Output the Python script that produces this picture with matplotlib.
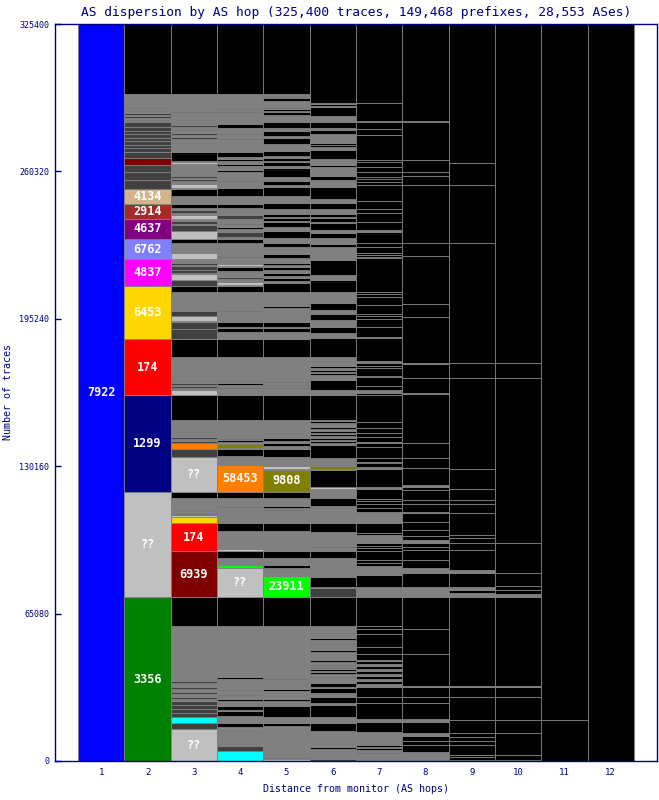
import matplotlib.pyplot as plt

plt.rcParams['font.family'] = ['DejaVu Sans Mono']

TITLE = "AS dispersion by AS hop (325,400 traces, 149,468 prefixes, 28,553 ASes)"
NAVY = '#000080'

# colour of each category (K = trace ended, G = other/many small, D = dark, L = unknown)
palette = {'K': '#000000', 'G': '#808080', 'D': '#404040', 'L': '#c0c0c0',
           'blue': '#0000ff', 'green': '#008000', 'navy': '#000080', 'red': '#ff0000',
           'gold': '#ffd700', 'magenta': '#ff00ff', 'slate': '#8080ff', 'purple': '#800080',
           'brown': '#a52a2a', 'tan': '#d2b48c', 'maroon': '#800000', 'cyan': '#00ffff',
           'orange': '#ff8000', 'olive': '#808000', 'lime': '#00ff00'}

hops = list(range(1, 13))
yticks = [0, 65080, 130160, 195240, 260320, 325400]

# segments per hop, bottom-up: (cumulative traces in thousands, category, AS label)
hop1 = [(325.4, 'blue', '7922')]

hop2 = [(72.4, 'green', '3356'), (118.8, 'L', '??'), (161.6, 'navy', '1299'), (186.3, 'red', '174'),
        (209.7, 'gold', '6453'), (221.6, 'magenta', '4837'), (230.5, 'slate', '6762'),
        (239.3, 'purple', '4637'), (245.9, 'brown', '2914'), (252.5, 'tan', '4134'),
        (256.5, 'D'), (260.0, 'D'), (263.1, 'D'), (266.2, 'maroon'), (268.9, 'D'),
        (270.6, 'D'), (272.0, 'D'), (273.7, 'D'), (275.1, 'D'), (276.8, 'D'), (278.1, 'D'),
        (279.9, 'D'), (282.1, 'D'), (282.8, 'G'), (283.4, 'D'), (284.1, 'G'), (284.8, 'D'),
        (285.4, 'G'), (286.1, 'D'), (286.8, 'G'), (287.4, 'D'), (288.1, 'G'), (288.8, 'D'),
        (289.2, 'G'), (294.5, 'G'), (325.4, 'K')]

hop3 = [(14.1, 'L', '??'), (16.9, 'D'), (19.4, 'cyan'), (21.2, 'D'), (23.0, 'D'), (24.7, 'D'),
        (26.3, 'D'), (27.4, 'G'), (28.3, 'D'), (29.6, 'G'), (30.5, 'D'), (31.8, 'G'), (32.7, 'D'),
        (34.4, 'G'), (35.3, 'D'), (59.6, 'G'), (72.4, 'K'), (92.7, 'maroon', '6939'),
        (105.1, 'red', '174'), (107.7, 'gold'), (108.4, 'L'), (109.1, 'purple'), (109.7, 'navy'),
        (110.4, 'G'), (111.0, 'D'), (116.1, 'G'), (118.8, 'K'), (134.2, 'L', '??'), (137.7, 'D'),
        (140.4, 'orange'), (141.3, 'D'), (142.2, 'G'), (143.0, 'D'), (150.6, 'G'), (161.6, 'K'),
        (164.0, 'L'), (164.7, 'G'), (165.6, 'D'), (166.2, 'G'), (166.9, 'D'), (167.6, 'G'),
        (168.2, 'D'), (178.4, 'G'), (186.3, 'K'), (190.7, 'D'), (193.8, 'D'), (194.3, 'G'),
        (196.5, 'L'), (198.7, 'D'), (207.1, 'G'), (209.7, 'K'), (212.4, 'D'), (215.0, 'L'),
        (215.5, 'G'), (216.8, 'D'), (218.5, 'D'), (219.2, 'G'), (219.9, 'D'), (221.6, 'G'),
        (224.4, 'L'), (228.7, 'G'), (230.5, 'K'), (234.0, 'L'), (236.6, 'D'), (237.1, 'G'),
        (238.2, 'D'), (239.3, 'G'), (241.1, 'L'), (241.9, 'G'), (243.3, 'D'), (244.1, 'G'),
        (245.9, 'K'), (249.4, 'G'), (252.5, 'K'), (253.0, 'G'), (254.8, 'L'), (256.3, 'G'),
        (257.0, 'D'), (257.4, 'G'), (258.1, 'D'), (263.6, 'G'), (264.6, 'L'), (265.0, 'G'),
        (269.0, 'K'), (272.9, 'G'), (273.5, 'D'), (274.6, 'G'), (275.3, 'D'), (276.6, 'G'),
        (277.3, 'D'), (278.6, 'G'), (279.2, 'D'), (280.1, 'G'), (280.8, 'D'), (286.7, 'G'),
        (287.2, 'K'), (294.5, 'G'), (325.4, 'K')]

hop4 = [(4.5, 'cyan'), (6.6, 'D'), (14.6, 'G'), (15.1, 'L'), (16.9, 'K'), (19.9, 'G'), (22.2, 'K'),
        (22.5, 'G'), (24.3, 'K'), (26.3, 'G'), (27.4, 'K'), (29.1, 'G'), (29.6, 'K'), (31.3, 'G'),
        (31.8, 'K'), (36.4, 'G'), (36.9, 'K'), (59.6, 'G'), (72.4, 'K'), (85.2, 'L', '??'),
        (86.5, 'lime'), (89.5, 'G'), (92.7, 'K'), (93.4, 'L'), (101.5, 'G'), (105.1, 'K'),
        (112.1, 'G'), (112.6, 'K'), (116.1, 'G'), (118.8, 'K'), (130.7, 'orange', '58453'),
        (131.4, 'G'), (134.7, 'G'), (137.7, 'K'), (138.2, 'G'), (140.0, 'olive'), (140.8, 'G'),
        (141.7, 'K'), (142.2, 'G'), (142.6, 'K'), (150.6, 'G'), (161.6, 'K'), (164.7, 'G'),
        (165.3, 'K'), (166.0, 'G'), (166.7, 'K'), (167.6, 'G'), (168.0, 'K'), (178.4, 'G'),
        (186.3, 'K'), (187.0, 'G'), (187.4, 'K'), (189.4, 'G'), (191.2, 'K'), (191.6, 'G'),
        (193.8, 'K'), (198.7, 'G'), (199.1, 'K'), (207.1, 'G'), (209.7, 'K'), (210.2, 'G'),
        (211.3, 'L'), (212.8, 'G'), (213.7, 'D'), (216.2, 'G'), (218.2, 'K'), (218.7, 'G'),
        (219.3, 'L'), (222.6, 'G'), (223.1, 'K'), (228.8, 'G'), (230.5, 'K'), (231.2, 'G'),
        (233.4, 'D'), (234.8, 'G'), (235.6, 'K'), (237.0, 'G'), (237.4, 'K'), (239.3, 'G'),
        (241.1, 'D'), (244.0, 'G'), (245.9, 'K'), (249.4, 'G'), (253.1, 'K'), (255.9, 'G'),
        (256.5, 'K'), (260.2, 'G'), (260.8, 'K'), (262.7, 'G'), (263.6, 'K'), (264.9, 'G'),
        (265.8, 'K'), (266.8, 'G'), (269.0, 'K'), (274.6, 'G'), (275.2, 'K'), (276.7, 'G'),
        (277.4, 'K'), (279.6, 'G'), (281.1, 'K'), (286.7, 'G'), (287.1, 'K'), (287.9, 'G'),
        (288.2, 'K'), (294.5, 'G'), (325.4, 'K')]

hop5 = [(0.8, 'L'), (1.3, 'G'), (1.8, 'K'), (2.2, 'G'), (5.1, 'G'), (5.4, 'K'), (15.5, 'G'),
        (16.9, 'K'), (19.4, 'G'), (24.3, 'K'), (26.5, 'G'), (27.4, 'K'), (31.1, 'G'), (31.6, 'K'),
        (36.4, 'G'), (36.8, 'K'), (40.0, 'G'), (40.3, 'K'), (43.5, 'G'), (43.8, 'K'), (59.6, 'G'),
        (72.4, 'K'), (81.7, 'lime', '23911'), (85.2, 'G'), (86.5, 'K'), (89.5, 'G'), (92.7, 'K'),
        (94.3, 'G'), (94.7, 'K'), (101.5, 'G'), (105.1, 'K'), (110.8, 'G'), (111.3, 'K'),
        (111.9, 'G'), (112.4, 'K'), (116.1, 'G'), (118.8, 'K'), (128.5, 'olive', '9808'),
        (129.1, 'G'), (130.4, 'L'), (134.4, 'G'), (137.7, 'K'), (139.1, 'G'), (140.4, 'K'),
        (141.1, 'G'), (142.6, 'K'), (150.6, 'G'), (161.6, 'K'), (164.7, 'G'), (165.1, 'K'),
        (166.0, 'G'), (166.4, 'K'), (167.3, 'G'), (167.8, 'K'), (178.4, 'G'), (186.3, 'K'),
        (187.0, 'G'), (187.4, 'K'), (189.4, 'G'), (191.2, 'K'), (191.6, 'G'), (193.8, 'K'),
        (200.0, 'G'), (200.9, 'K'), (207.1, 'G'), (210.9, 'K'), (211.9, 'G'), (213.4, 'K'),
        (214.3, 'G'), (215.5, 'K'), (216.8, 'G'), (218.0, 'K'), (218.8, 'G'), (220.0, 'K'),
        (222.1, 'G'), (223.7, 'K'), (227.1, 'G'), (228.6, 'K'), (230.8, 'G'), (234.1, 'K'),
        (235.9, 'G'), (237.8, 'K'), (238.3, 'G'), (239.6, 'K'), (240.3, 'G'), (241.5, 'K'),
        (243.6, 'G'), (246.5, 'K'), (249.4, 'G'), (253.6, 'K'), (254.3, 'G'), (256.2, 'K'),
        (258.0, 'G'), (261.7, 'K'), (262.8, 'G'), (264.6, 'K'), (265.0, 'G'), (266.1, 'K'),
        (267.2, 'G'), (269.5, 'K'), (272.4, 'G'), (274.9, 'K'), (275.9, 'G'), (278.0, 'K'),
        (279.6, 'G'), (282.0, 'K'), (285.2, 'G'), (286.5, 'K'), (287.1, 'G'), (287.7, 'K'),
        (288.2, 'G'), (288.9, 'K'), (291.5, 'G'), (292.6, 'K'), (293.0, 'G'), (293.6, 'K'),
        (294.5, 'G'), (325.4, 'K')]

hop6 = [(0.7, 'D'), (5.2, 'G'), (6.3, 'K'), (13.2, 'G'), (16.9, 'K'), (19.3, 'G'), (24.7, 'K'),
        (25.7, 'G'), (28.4, 'K'), (30.0, 'G'), (32.2, 'K'), (32.8, 'G'), (34.6, 'K'), (37.1, 'G'),
        (37.7, 'K'), (38.4, 'G'), (39.1, 'K'), (39.7, 'G'), (40.4, 'K'), (41.1, 'G'), (41.7, 'K'),
        (42.4, 'G'), (43.0, 'K'), (43.7, 'G'), (44.4, 'K'), (48.3, 'G'), (49.0, 'K'), (51.5, 'G'),
        (52.2, 'K'), (53.4, 'G'), (54.2, 'K'), (56.4, 'G'), (57.1, 'K'), (59.6, 'G'), (72.4, 'K'),
        (76.2, 'D'), (77.0, 'G'), (81.4, 'K'), (89.5, 'G'), (92.7, 'K'), (94.5, 'G'), (95.1, 'K'),
        (101.2, 'G'), (105.1, 'K'), (111.7, 'G'), (112.3, 'K'), (112.6, 'G'), (116.0, 'K'),
        (120.0, 'G'), (121.1, 'L'), (128.5, 'K'), (128.8, 'G'), (130.2, 'olive'), (133.6, 'G'),
        (139.5, 'K'), (140.4, 'G'), (141.1, 'K'), (141.7, 'G'), (142.6, 'K'), (143.5, 'G'),
        (144.4, 'K'), (145.0, 'G'), (145.7, 'K'), (146.6, 'G'), (147.5, 'K'), (149.2, 'G'),
        (149.9, 'K'), (150.6, 'G'), (161.6, 'K'), (163.8, 'G'), (168.2, 'K'), (170.4, 'G'),
        (171.1, 'K'), (171.7, 'G'), (172.6, 'K'), (173.3, 'G'), (174.4, 'K'), (178.4, 'G'),
        (186.6, 'K'), (188.8, 'G'), (191.5, 'K'), (194.7, 'G'), (197.4, 'K'), (199.1, 'G'),
        (202.1, 'K'), (207.2, 'G'), (212.4, 'K'), (214.6, 'G'), (221.2, 'K'), (226.8, 'G'),
        (228.3, 'K'), (230.8, 'G'), (233.3, 'K'), (234.4, 'G'), (237.7, 'K'), (238.1, 'G'),
        (239.6, 'K'), (240.0, 'G'), (241.5, 'K'), (243.6, 'G'), (246.5, 'K'), (248.0, 'G'),
        (253.3, 'K'), (256.5, 'G'), (258.4, 'K'), (262.1, 'G'), (263.1, 'K'), (265.7, 'G'),
        (269.8, 'K'), (270.9, 'G'), (272.0, 'K'), (273.0, 'K'), (276.8, 'G'), (278.6, 'K'),
        (279.3, 'G'), (282.0, 'K'), (284.8, 'G'), (288.9, 'K'), (289.2, 'G'), (290.1, 'K'),
        (290.4, 'G'), (325.4, 'K')]

hop7 = [(3.7, 'G'), (4.1, 'K'), (4.9, 'G'), (5.7, 'K'), (6.4, 'G'), (7.1, 'K'), (12.9, 'G'),
        (17.4, 'K'), (18.4, 'G'), (25.5, 'K'), (28.4, 'K'), (32.8, 'K'), (33.9, 'G'), (35.3, 'K'),
        (36.2, 'G'), (37.5, 'K'), (38.4, 'G'), (39.7, 'K'), (40.6, 'G'), (41.9, 'K'), (42.8, 'G'),
        (44.2, 'K'), (44.6, 'G'), (47.2, 'K'), (50.5, 'K'), (56.1, 'K'), (58.1, 'K'), (59.6, 'K'),
        (72.4, 'K'), (77.0, 'G'), (82.1, 'K'), (86.1, 'G'), (87.6, 'K'), (88.7, 'K'), (92.9, 'K'),
        (93.9, 'K'), (94.9, 'K'), (96.1, 'K'), (99.8, 'G'), (100.5, 'K'), (105.2, 'K'),
        (110.1, 'G'), (111.6, 'K'), (113.5, 'K'), (114.9, 'K'), (115.5, 'K'), (120.0, 'K'),
        (121.1, 'G'), (128.8, 'K'), (129.7, 'G'), (131.4, 'K'), (132.1, 'K'), (133.6, 'K'),
        (138.8, 'K'), (140.3, 'K'), (141.0, 'G'), (143.2, 'K'), (144.7, 'K'), (146.9, 'K'),
        (149.8, 'K'), (161.6, 'K'), (162.6, 'K'), (163.8, 'G'), (165.6, 'K'), (169.4, 'K'),
        (170.0, 'K'), (173.4, 'K'), (174.4, 'K'), (175.9, 'K'), (176.7, 'G'), (186.6, 'K'),
        (187.1, 'G'), (191.7, 'K'), (195.0, 'K'), (196.5, 'K'), (197.4, 'K'), (201.3, 'K'),
        (204.7, 'K'), (206.2, 'K'), (206.9, 'K'), (221.9, 'K'), (222.6, 'K'), (223.4, 'K'),
        (224.1, 'K'), (226.8, 'K'), (228.6, 'K'), (233.7, 'K'), (234.4, 'G'), (237.8, 'K'),
        (241.8, 'K'), (243.7, 'K'), (247.2, 'K'), (254.3, 'K'), (255.8, 'K'), (256.8, 'K'),
        (257.7, 'K'), (260.2, 'K'), (262.1, 'K'), (264.6, 'K'), (265.3, 'K'), (276.4, 'K'),
        (278.9, 'K'), (282.1, 'K'), (282.7, 'K'), (290.4, 'K'), (325.4, 'K')]

hop8 = [(4.1, 'G'), (7.1, 'K'), (9.0, 'K'), (11.0, 'K'), (12.5, 'G'), (17.4, 'K'), (18.4, 'G'),
        (25.7, 'K'), (28.4, 'K'), (32.5, 'K'), (33.1, 'G'), (47.2, 'K'), (58.1, 'K'), (72.4, 'K'),
        (77.0, 'G'), (82.9, 'K'), (85.1, 'G'), (88.7, 'K'), (93.2, 'K'), (94.6, 'K'), (96.1, 'K'),
        (97.6, 'G'), (99.3, 'K'), (102.0, 'K'), (105.7, 'K'), (109.4, 'K'), (110.1, 'G'),
        (113.5, 'K'), (115.2, 'K'), (119.6, 'K'), (120.8, 'K'), (121.9, 'G'), (129.2, 'K'),
        (133.6, 'K'), (140.3, 'K'), (162.0, 'K'), (162.6, 'G'), (169.0, 'K'), (175.1, 'K'),
        (175.9, 'G'), (195.9, 'K'), (201.8, 'K'), (223.0, 'K'), (228.6, 'K'), (254.3, 'K'),
        (258.3, 'K'), (260.2, 'K'), (265.3, 'K'), (282.1, 'K'), (282.7, 'K'), (325.4, 'K')]

hop9 = [(0.4, 'K'), (1.6, 'K'), (2.6, 'K'), (7.1, 'K'), (9.0, 'K'), (10.7, 'K'), (12.2, 'K'),
        (18.1, 'K'), (28.4, 'K'), (32.5, 'K'), (33.1, 'G'), (72.4, 'K'), (74.0, 'G'), (75.5, 'K'),
        (77.0, 'G'), (83.1, 'K'), (84.3, 'G'), (93.2, 'K'), (96.1, 'K'), (98.3, 'K'), (99.8, 'K'),
        (109.4, 'K'), (109.7, 'G'), (113.5, 'K'), (115.2, 'K'), (120.0, 'K'), (128.8, 'K'),
        (169.0, 'K'), (175.6, 'K'), (228.6, 'K'), (254.3, 'K'), (263.9, 'K'), (325.4, 'K')]

hop10 = [(0.4, 'K'), (2.6, 'K'), (12.2, 'K'), (18.1, 'K'), (28.1, 'K'), (32.5, 'K'), (33.1, 'G'),
         (72.4, 'K'), (73.7, 'G'), (75.5, 'K'), (77.3, 'K'), (82.9, 'K'), (96.1, 'K'),
         (169.0, 'K'), (175.6, 'K'), (325.4, 'K')]

hop11 = [(18.1, 'K'), (325.4, 'K')]

hop12 = [(325.4, 'K')]

columns = [hop1, hop2, hop3, hop4, hop5, hop6, hop7, hop8, hop9, hop10, hop11, hop12]

fig = plt.figure(figsize=(6.59, 8), dpi=100)
ax = fig.add_axes([55 / 659, 39 / 800, 602 / 659, 737 / 800])

for x, segs in zip(hops, columns):
    bottom = 0
    for seg in segs:
        top = seg[0] * 1000
        ax.bar(x, top - bottom, bottom=bottom, width=1.0, color=palette[seg[1]],
               edgecolor='#808080', linewidth=0.6)
        if len(seg) > 2:
            ax.text(x, (bottom + top) / 2, seg[2], color='white', fontsize=8.5,
                    fontweight='bold', ha='center', va='center')
        bottom = top

ax.set_xlim(0, 13)
ax.set_ylim(0, 325400)
ax.set_xticks(hops)
ax.set_xticklabels([str(h) for h in hops])
ax.set_yticks(yticks)
ax.set_yticklabels([str(t) for t in yticks])
ax.tick_params(axis='y', direction='in', length=4, width=1, color=NAVY,
               labelcolor=NAVY, labelsize=6, pad=4)
ax.tick_params(axis='x', length=0, labelcolor=NAVY, labelsize=6.5, pad=5)
for s in ax.spines.values():
    s.set_color(NAVY)
    s.set_linewidth(1)

ax.set_title(TITLE, color=NAVY, fontsize=9.3, pad=6)
fig.text(0.54, 0.008, "Distance from monitor (AS hops)", color=NAVY, fontsize=7.2,
         ha='center', va='bottom')
fig.text(0.004, 0.51, "Number of traces", color=NAVY, fontsize=7.2, rotation=90,
         ha='left', va='center')

fig.savefig('out.png', dpi=100)
